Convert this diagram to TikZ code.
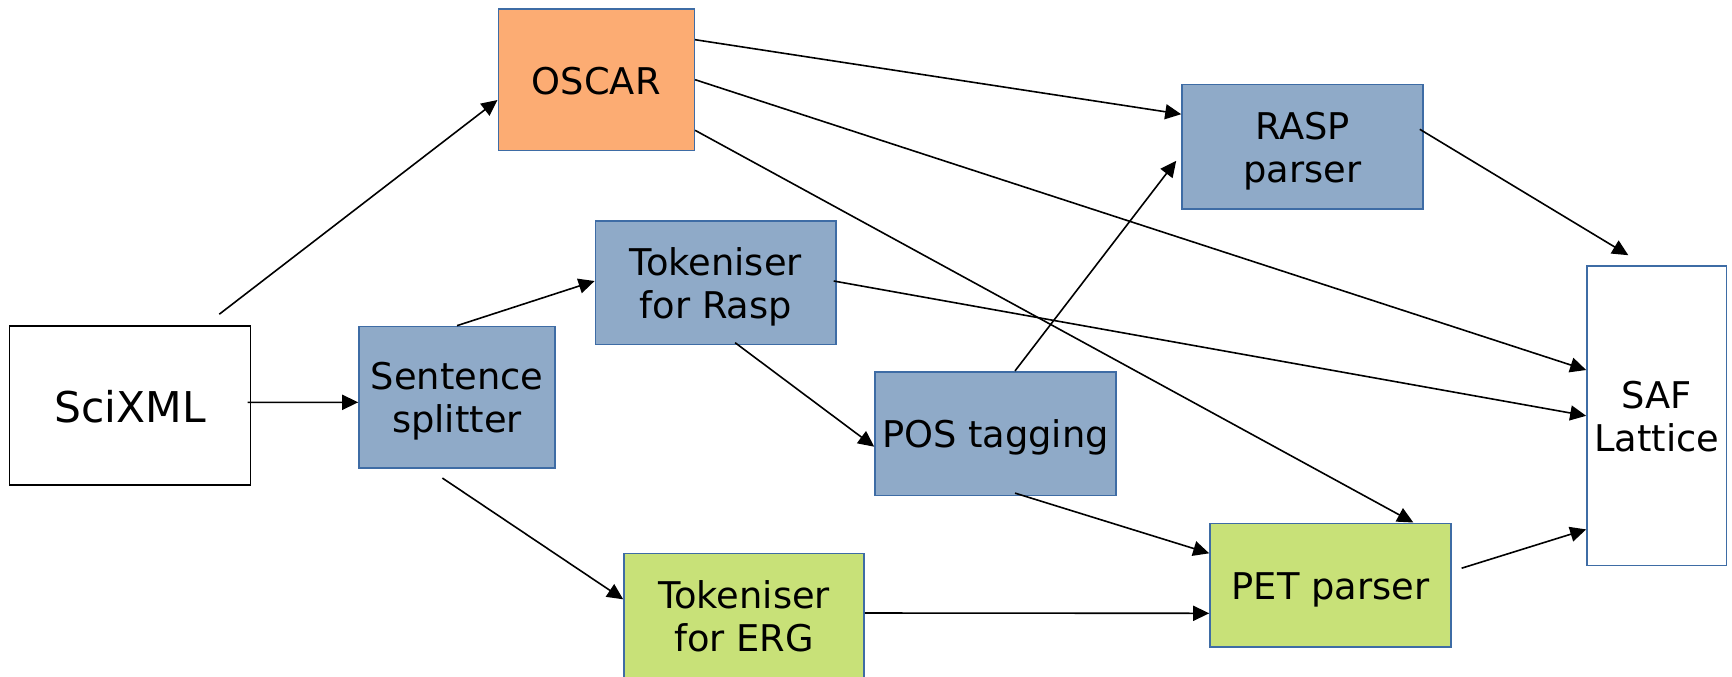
\documentclass[tikz,border=0pt]{standalone}
\usepackage{fontspec}
\setmainfont{DejaVu Sans}
\usetikzlibrary{arrows.meta}
\definecolor{orangefill}{RGB}{252,172,115}
\definecolor{bluefill}{RGB}{143,170,200}
\definecolor{greenfill}{RGB}{200,225,120}
\definecolor{boxedge}{RGB}{62,108,165}
% every text line gets the same ascent and descent, so blocks centre on line boxes
\newcommand{\linestrut}{\rule[-3.5pt]{0pt}{21.5pt}}
\newcommand{\bigstrut}{\rule[-4pt]{0pt}{25pt}}
\begin{document}
\begin{tikzpicture}[x=0.5pt,y=-0.5pt,
  box/.style={draw=boxedge, line width=0.8pt, inner sep=0pt, align=center,
    font=\fontsize{18.4}{21.5}\selectfont},
  orangebox/.style={box, fill=orangefill},
  bluebox/.style={box, fill=bluefill},
  greenbox/.style={box, fill=greenfill},
  whitebox/.style={box, fill=white},
  flow/.style={-{Triangle[length=8pt,width=7.5pt]}, line width=0.8pt, black}]
\useasboundingbox (0,0) rectangle (1732,676);

% processing stages
\node[whitebox, draw=black, minimum width=120.5pt, minimum height=79.5pt,
      font=\fontsize{21.2}{25}\selectfont] (sci) at (130,405.5) {\bigstrut SciXML};
\node[bluebox, minimum width=98pt, minimum height=70.75pt] (sent) at (457,397.2)
  {\linestrut Sentence\\\linestrut splitter};
\node[orangebox, minimum width=98pt, minimum height=70.65pt] (oscar) at (596.3,79.7)
  {\linestrut OSCAR};
\node[bluebox, minimum width=120.4pt, minimum height=61.9pt] (tokr) at (715.8,282.6)
  {\linestrut Tokeniser\\\linestrut for Rasp};
\node[greenbox, minimum width=120pt, minimum height=62pt] (toke) at (744,615.5)
  {\linestrut Tokeniser\\\linestrut for ERG};
\node[bluebox, minimum width=120.5pt, minimum height=62.1pt] (rasp) at (1302.5,146.6)
  {\linestrut RASP\\\linestrut parser};
\node[bluebox, minimum width=120.35pt, minimum height=61.8pt] (pos) at (995.4,433.5)
  {\linestrut POS tagging};
\node[greenbox, minimum width=120.5pt, minimum height=61.7pt] (pet) at (1330.5,585)
  {\linestrut PET parser};
\node[whitebox, minimum width=69.85pt, minimum height=149.8pt] (saf) at (1656.8,415.8)
  {\linestrut SAF\\\linestrut Lattice};

% data flow
\draw[flow] ([shift={(89.3,-11)}]sci.north) -- ([shift={(0,20.3)}]oscar.west);
\draw[flow] ([shift={(-3.8,-3.2)}]sci.east) -- ([shift={(0,5.1)}]sent.west);
\draw[flow] (sent.north) -- ([shift={(0,-1.6)}]tokr.west);
\draw[flow] ([shift={(-14.6,9.3)}]sent.south) -- ([shift={(0,-16.2)}]toke.west);
\draw[flow] ([shift={(19.3,-2.6)}]tokr.south) -- ([shift={(0,13.2)}]pos.west);
\draw[flow] ([shift={(-3.3,-1.6)}]tokr.east) -- (saf.west);
\draw[flow] ([shift={(0,-40)}]oscar.east) -- ([shift={(0,-32.4)}]rasp.west);
\draw[flow] (oscar.east) -- ([shift={(0,-45.8)}]saf.west);
\draw[flow] ([shift={(0,50.6)}]oscar.east) -- ([shift={(82.8,0)}]pet.north);
\draw[flow] ([shift={(19.6,0)}]pos.north) -- ([shift={(-5,14.2)}]rasp.west);
\draw[flow] ([shift={(19.6,-3)}]pos.south) -- ([shift={(0,-31.7)}]pet.west);
\draw[flow] ([shift={(0,-2.5)}]toke.east) -- ([shift={(0,28.3)}]pet.west);
\draw[flow] ([shift={(-4,-17.3)}]rasp.east) -- ([shift={(-28.5,-10)}]saf.north);
\draw[flow] ([shift={(9.8,-16.8)}]pet.east) -- ([shift={(0,113.6)}]saf.west);
\end{tikzpicture}
\end{document}
